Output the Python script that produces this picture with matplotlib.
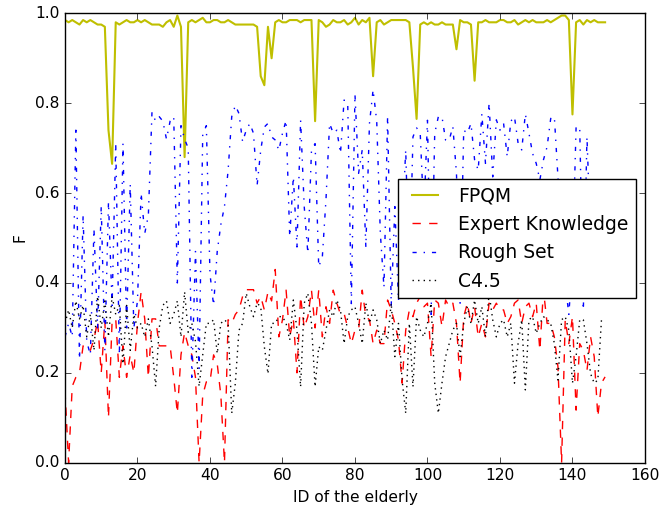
import numpy as np
import matplotlib
matplotlib.use("Agg")
import matplotlib.pyplot as plt

plt.style.use('classic')

# values, one point per elderly person (ID 0..149)
fpqm = [0.985, 0.98, 0.985, 0.98, 0.975, 0.985, 0.98, 0.985, 0.98, 0.975,
        0.975, 0.97, 0.74, 0.665, 0.98, 0.975, 0.98, 0.985, 0.98, 0.98,
        0.985, 0.98, 0.985, 0.98, 0.975, 0.975, 0.975, 0.97, 0.98, 0.985,
        0.97, 0.995, 0.97, 0.68, 0.98, 0.985, 0.98, 0.985, 0.99, 0.98,
        0.98, 0.985, 0.985, 0.98, 0.98, 0.985, 0.98, 0.975, 0.975, 0.975,
        0.975, 0.975, 0.975, 0.97, 0.86, 0.84, 0.97, 0.90, 0.98, 0.985,
        0.98, 0.98, 0.985, 0.985, 0.985, 0.98, 0.985, 0.985, 0.985, 0.76,
        0.985, 0.98, 0.97, 0.975, 0.985, 0.98, 0.98, 0.985, 0.975, 0.98,
        0.99, 0.975, 0.985, 0.98, 0.99, 0.86, 0.98, 0.985, 0.975, 0.98,
        0.985, 0.985, 0.985, 0.985, 0.985, 0.98, 0.88, 0.765, 0.975, 0.98,
        0.975, 0.98, 0.975, 0.975, 0.98, 0.975, 0.975, 0.975, 0.92, 0.985,
        0.98, 0.98, 0.975, 0.85, 0.98, 0.98, 0.985, 0.98, 0.98, 0.98,
        0.985, 0.985, 0.98, 0.98, 0.985, 0.975, 0.98, 0.985, 0.98, 0.985,
        0.98, 0.98, 0.98, 0.985, 0.98, 0.985, 0.99, 0.995, 0.995, 0.985,
        0.775, 0.98, 0.985, 0.975, 0.985, 0.98, 0.985, 0.98, 0.98, 0.98]

expert = [0.16, 0.0, 0.17, 0.19, 0.20, 0.26, 0.26, 0.25, 0.275, 0.315,
          0.20, 0.315, 0.10, 0.315, 0.32, 0.19, 0.26, 0.19, 0.24, 0.20,
          0.31, 0.38, 0.32, 0.19, 0.32, 0.32, 0.26, 0.26, 0.26, 0.26,
          0.19, 0.11, 0.24, 0.29, 0.26, 0.24, 0.19, 0.0, 0.15, 0.18,
          0.18, 0.24, 0.22, 0.15, 0.0, 0.318, 0.31, 0.33, 0.34, 0.37,
          0.385, 0.385, 0.385, 0.355, 0.37, 0.34, 0.38, 0.36, 0.43, 0.28,
          0.318, 0.384, 0.28, 0.32, 0.20, 0.37, 0.30, 0.325, 0.384, 0.30,
          0.384, 0.28, 0.347, 0.31, 0.384, 0.355, 0.33, 0.332, 0.30, 0.265,
          0.295, 0.295, 0.384, 0.325, 0.318, 0.265, 0.295, 0.265, 0.265, 0.362,
          0.34, 0.31, 0.273, 0.177, 0.295, 0.34, 0.325, 0.355, 0.37, 0.347,
          0.355, 0.236, 0.362, 0.355, 0.303, 0.362, 0.347, 0.355, 0.31, 0.177,
          0.325, 0.355, 0.31, 0.347, 0.28, 0.31, 0.28, 0.355, 0.34, 0.355,
          0.34, 0.34, 0.31, 0.325, 0.355, 0.362, 0.31, 0.347, 0.355, 0.325,
          0.355, 0.25, 0.384, 0.31, 0.31, 0.28, 0.213, 0.0, 0.318, 0.265,
          0.325, 0.117, 0.265, 0.25, 0.205, 0.28, 0.236, 0.102, 0.177, 0.191]

rough = [0.28, 0.31, 0.28, 0.74, 0.23, 0.55, 0.27, 0.24, 0.52, 0.30,
         0.57, 0.25, 0.58, 0.35, 0.71, 0.24, 0.71, 0.30, 0.62, 0.30,
         0.36, 0.60, 0.51, 0.55, 0.78, 0.76, 0.77, 0.76, 0.72, 0.76,
         0.77, 0.40, 0.75, 0.72, 0.70, 0.19, 0.47, 0.21, 0.73, 0.75,
         0.42, 0.35, 0.47, 0.53, 0.57, 0.65, 0.77, 0.795, 0.777, 0.714,
         0.74, 0.755, 0.733, 0.617, 0.695, 0.747, 0.755, 0.725, 0.718, 0.695,
         0.733, 0.762, 0.503, 0.636, 0.48, 0.762, 0.57, 0.466, 0.695, 0.71,
         0.436, 0.458, 0.585, 0.755, 0.733, 0.74, 0.688, 0.807, 0.80, 0.354,
         0.82, 0.644, 0.696, 0.48, 0.755, 0.83, 0.76, 0.51, 0.39, 0.77,
         0.35, 0.57, 0.36, 0.52, 0.696, 0.40, 0.725, 0.745, 0.733, 0.55,
         0.762, 0.33, 0.733, 0.77, 0.77, 0.718, 0.718, 0.748, 0.644, 0.355,
         0.74, 0.733, 0.755, 0.674, 0.651, 0.776, 0.666, 0.80, 0.636, 0.763,
         0.74, 0.755, 0.681, 0.76, 0.77, 0.711, 0.696, 0.776, 0.733, 0.688,
         0.666, 0.629, 0.674, 0.703, 0.766, 0.77, 0.636, 0.50, 0.40, 0.33,
         0.45, 0.747, 0.747, 0.34, 0.725, 0.50, 0.55, 0.48, 0.52, 0.50]

c45 = [0.31, 0.34, 0.30, 0.36, 0.32, 0.35, 0.28, 0.33, 0.25, 0.37,
       0.30, 0.36, 0.28, 0.37, 0.33, 0.35, 0.22, 0.35, 0.25, 0.33,
       0.30, 0.31, 0.28, 0.32, 0.26, 0.17, 0.30, 0.35, 0.36, 0.31,
       0.33, 0.36, 0.28, 0.38, 0.29, 0.31, 0.27, 0.17, 0.24, 0.31,
       0.31, 0.318, 0.243, 0.31, 0.318, 0.31, 0.11, 0.177, 0.295, 0.31,
       0.377, 0.347, 0.325, 0.355, 0.347, 0.258, 0.198, 0.31, 0.31, 0.325,
       0.325, 0.31, 0.273, 0.362, 0.295, 0.169, 0.355, 0.377, 0.31, 0.169,
       0.258, 0.25, 0.295, 0.34, 0.325, 0.362, 0.34, 0.265, 0.325, 0.34,
       0.347, 0.31, 0.265, 0.355, 0.31, 0.34, 0.318, 0.265, 0.295, 0.273,
       0.355, 0.236, 0.31, 0.184, 0.11, 0.31, 0.169, 0.325, 0.295, 0.28,
       0.31, 0.355, 0.177, 0.11, 0.177, 0.236, 0.265, 0.295, 0.31, 0.236,
       0.31, 0.347, 0.31, 0.362, 0.31, 0.347, 0.28, 0.377, 0.318, 0.28,
       0.31, 0.318, 0.28, 0.31, 0.177, 0.265, 0.318, 0.162, 0.318, 0.325,
       0.288, 0.31, 0.325, 0.318, 0.31, 0.265, 0.184, 0.318, 0.325, 0.295,
       0.177, 0.236, 0.318, 0.318, 0.265, 0.198, 0.177, 0.184, 0.318, 0.318]

ids = np.arange(len(fpqm))

fig = plt.figure(figsize=(6.59, 5.12), dpi=100, facecolor='white')
ax = fig.add_axes([0.0986, 0.0963, 0.8801, 0.8777])

ax.plot(ids, fpqm, 'y-', lw=1.5, label='FPQM')
ax.plot(ids, expert, 'r--', lw=1.0, label='Expert Knowledge')
ax.plot(ids, rough, 'b-.', lw=1.0, label='Rough Set')
ax.plot(ids, c45, 'k:', lw=1.0, label='C4.5')

ax.set_xlim(0, 160)
ax.set_ylim(0, 1.0)
ax.set_xticks(np.arange(0, 161, 20))
ax.set_yticks(np.arange(0, 1.01, 0.2))
ax.tick_params(labelsize=11.2)
ax.set_xlabel('ID of the elderly', fontsize=11.2)
ax.set_ylabel('F', fontsize=11.2)

# legend text is a bit larger than the tick labels
ax.legend(loc='center right', bbox_to_anchor=(0.985, 0.499), borderaxespad=0,
          fontsize=13.5)

fig.savefig('out.png', dpi=100, facecolor='white')
